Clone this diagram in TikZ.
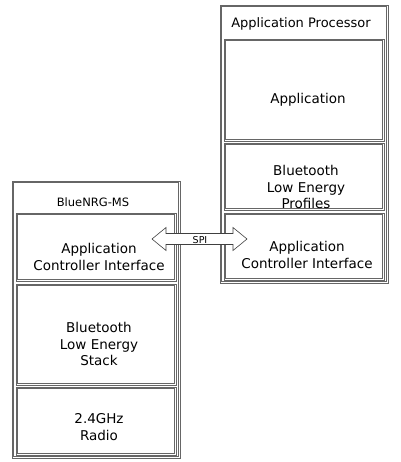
\documentclass[tikz,border=0pt]{standalone}
\usepackage{fontspec}
\setmainfont{DejaVu Sans}
\newcommand\dblbox[4]{%
  \draw[boxline] (#1,#2) rectangle (#3,#4);
  \draw[boxline] ($(#1,#2)+(1.6,1.6)$) rectangle ($(#3,#4)+(-1.6,-1.6)$);}
\usetikzlibrary{calc}
\begin{document}
\begin{tikzpicture}[x=1pt,y=-1pt,
  boxline/.style={draw=black!60, line width=0.6pt},
  lbl/.style={align=center, inner sep=0pt, font=\fontsize{13.5}{16.5}\selectfont, text=black},
  ttl/.style={inner sep=0pt, text=black},
  spil/.style={inner sep=0pt, font=\fontsize{9.5}{11}\selectfont, text=black}]
\useasboundingbox (0,0) rectangle (400,462);
% left chip
\dblbox{12}{181}{180}{458}
\dblbox{16}{213}{176}{281}
\dblbox{16}{284}{176}{385}
\dblbox{16}{387}{176}{455}
\node[ttl, font=\fontsize{11.5}{13}\selectfont] (bnrg) at (93,202) {BlueNRG-MS};
\node[lbl] (laci) at (99,257) {Application\\Controller Interface};
\node[lbl] (stack) at (99,344) {Bluetooth\\Low Energy\\Stack};
\node[lbl] (radio) at (99,427) {2.4GHz\\Radio};
% right processor
\dblbox{220}{5}{388}{283}
\dblbox{224}{39}{384}{141}
\dblbox{224}{143}{384}{210}
\dblbox{224}{213}{384}{280}
\node[ttl, font=\fontsize{13}{15}\selectfont] (ap) at (301,24) {Application Processor};
\node[lbl] (app) at (308,100) {Application};
\node[lbl] (prof) at (306,187) {Bluetooth\\Low Energy\\Profiles};
\node[lbl] (raci) at (307,255) {Application\\Controller Interface};
% SPI arrow
\draw[draw=black!75, fill=white, line width=0.6pt]
  (152,239) -- (166,227.5) -- (166,233.5) -- (233,233.5) -- (233,227.5) -- (247,239)
  -- (233,250.5) -- (233,244.5) -- (166,244.5) -- (166,250.5) -- cycle;
\node[spil] (spi) at (200,239.8) {SPI};
\end{tikzpicture}
\end{document}
